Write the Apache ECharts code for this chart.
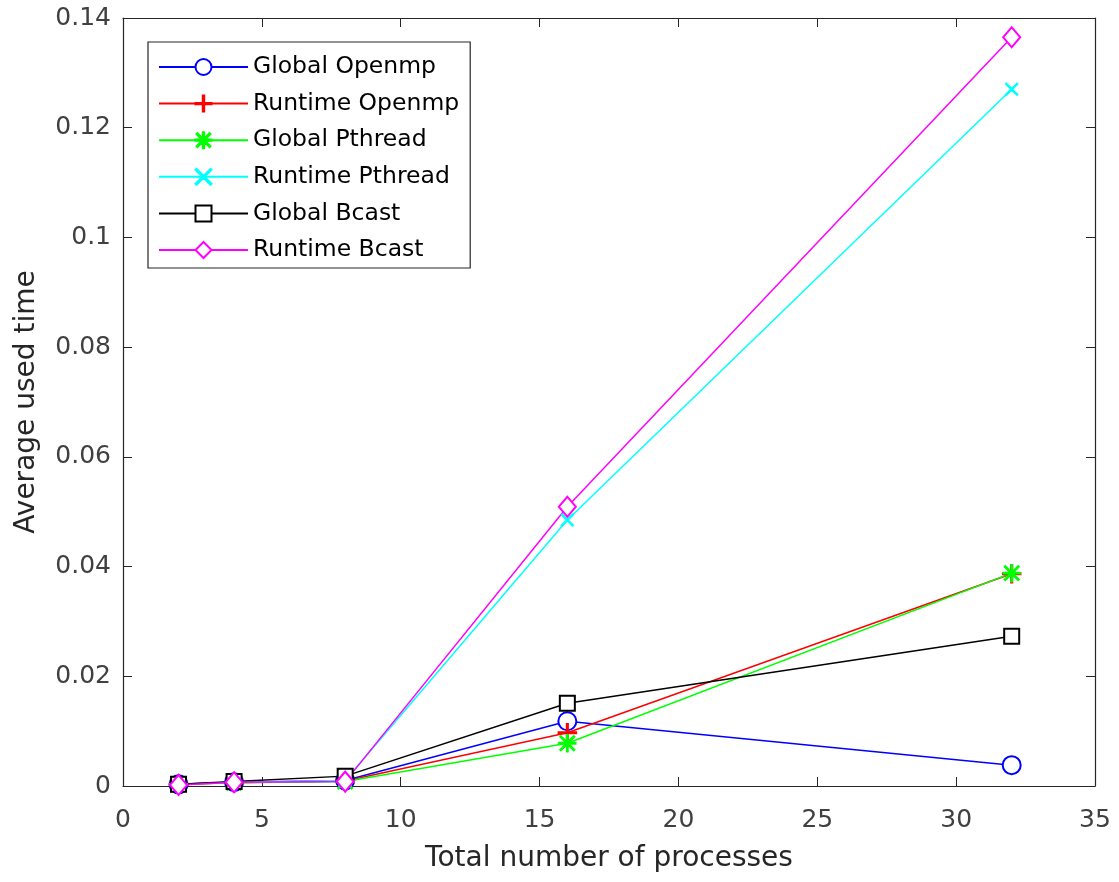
<!DOCTYPE html>
<html><head><meta charset="utf-8">
<script src="https://cdn.jsdelivr.net/npm/echarts@6/dist/echarts.min.js"></script>
<style>html,body{margin:0;padding:0;background:#fff}#c{width:1119px;height:882px}</style>
</head><body><div id="c"></div>
<script>
const processes = [2, 4, 8, 16, 32];
const globalOpenmp   = [0.0003, 0.0007, 0.0010, 0.0118, 0.0038];
const runtimeOpenmp  = [0.0003, 0.0006, 0.0009, 0.0097, 0.0387];
const globalPthread  = [0.0003, 0.0006, 0.0008, 0.0078, 0.0388];
const runtimePthread = [0.0003, 0.0007, 0.0010, 0.0485, 0.1270];
const globalBcast    = [0.0003, 0.0008, 0.0018, 0.0151, 0.0273];
const runtimeBcast   = [0.0002, 0.0007, 0.0008, 0.0509, 0.1365];
const seriesNames = ['Global Openmp','Runtime Openmp','Global Pthread','Runtime Pthread','Global Bcast','Runtime Bcast'];

const plusPath = 'path://M9.1,0h1.8v20h-1.8z M0,9.1h20v1.8h-20z';
const xPath = 'path://M1.2,0L10,8.8L18.8,0L20,1.2L11.2,10L20,18.8L18.8,20L10,11.2L1.2,20L0,18.8L8.8,10L0,1.2z';
const starPath = 'path://M9.2,0h1.6v20h-1.6z M0,9.2h20v1.6h-20z M2.4,1.3L10,8.9L17.6,1.3L18.7,2.4L11.1,10L18.7,17.6L17.6,18.7L10,11.1L2.4,18.7L1.3,17.6L8.9,10L1.3,2.4z';

const defs = [
  {data: globalOpenmp, color: '#0000FF', symbol: 'emptyCircle', size: 18},
  {data: runtimeOpenmp, color: '#FF0000', symbol: plusPath, size: 18},
  {data: globalPthread, color: '#00FF00', symbol: starPath, size: 17},
  {data: runtimePthread, color: '#00FFFF', symbol: xPath, size: 12},
  {data: globalBcast, color: '#000000', symbol: 'emptyRect', size: 15},
  {data: runtimeBcast, color: '#FF00FF', symbol: 'emptyDiamond', size: [17, 20]}
];

const font = 'DejaVu Sans, sans-serif';
const axisLine = {show: true, onZero: false, lineStyle: {color: '#262626', width: 1.2}};
const tick = {show: true, inside: true, length: 9, lineStyle: {color: '#262626'}};
const chart = echarts.init(document.getElementById('c'));
chart.setOption({
  animation: false,
  backgroundColor: '#fff',
  grid: {left: 123, right: 24, top: 18, bottom: 96},
  legend: {
    left: 148, top: 42, orient: 'vertical',
    data: seriesNames,
    backgroundColor: '#fff', borderColor: '#262626', borderWidth: 1.2,
    padding: [13, 11, 6, 10], itemGap: 12.6, itemWidth: 89, itemHeight: 20,
    textStyle: {fontFamily: font, fontSize: 23.5, lineHeight: 24, color: '#000'}
  },
  xAxis: [{
    type: 'value', min: 0, max: 35, interval: 5, position: 'bottom',
    name: 'Total number of processes', nameLocation: 'middle', nameGap: 59,
    nameTextStyle: {fontFamily: font, fontSize: 28, color: '#262626'},
    axisLine: axisLine, axisTick: tick,
    axisLabel: {fontFamily: font, fontSize: 25, color: '#404040', margin: 22},
    splitLine: {show: false}
  }, {
    type: 'value', min: 0, max: 35, interval: 5, position: 'top',
    axisLine: axisLine, axisTick: tick, axisLabel: {show: false}, splitLine: {show: false}
  }],
  yAxis: [{
    type: 'value', min: 0, max: 0.14, interval: 0.02, position: 'left',
    name: 'Average used time', nameLocation: 'middle', nameGap: 82,
    nameTextStyle: {fontFamily: font, fontSize: 28, color: '#262626'},
    axisLine: axisLine, axisTick: tick,
    axisLabel: {fontFamily: font, fontSize: 25, color: '#404040', margin: 12,
      formatter: v => (v === 0 ? '0' : String(+v.toFixed(2)))},
    splitLine: {show: false}
  }, {
    type: 'value', min: 0, max: 0.14, interval: 0.02, position: 'right',
    axisLine: axisLine, axisTick: tick, axisLabel: {show: false}, splitLine: {show: false}
  }],
  series: defs.map((d, i) => ({
    name: seriesNames[i], type: 'line',
    xAxisIndex: 0, yAxisIndex: 0,
    data: processes.map((x, j) => [x, d.data[j]]),
    symbol: d.symbol, symbolSize: d.size, showSymbol: true,
    lineStyle: {color: d.color, width: 1.5},
    itemStyle: {color: d.color, borderColor: d.color, borderWidth: 1.5},
    color: d.color
  }))
});
</script></body></html>
